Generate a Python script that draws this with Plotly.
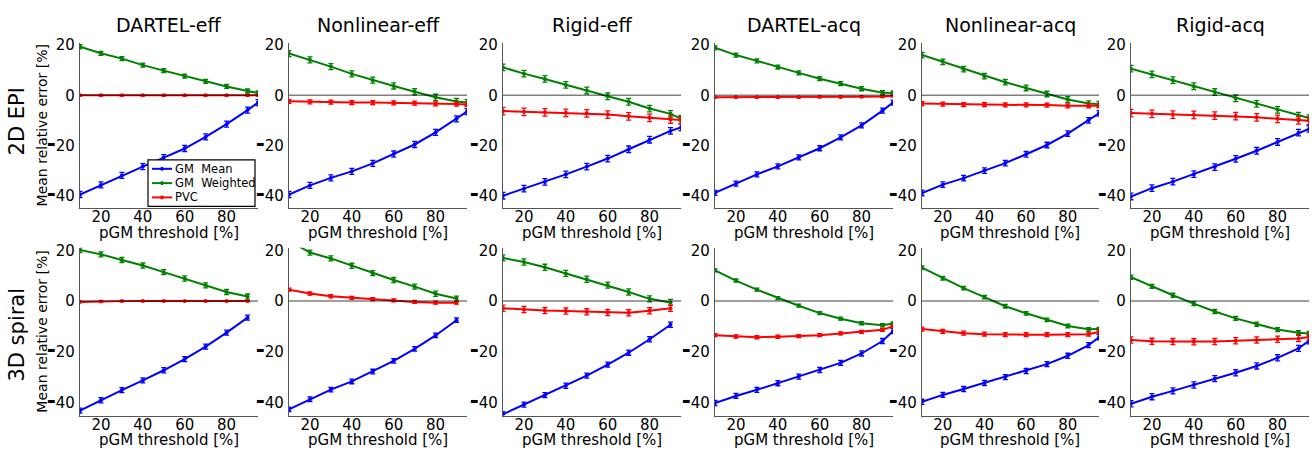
import plotly.graph_objects as go

# ---------------- data ----------------
thresholds = [10, 20, 30, 40, 50, 60, 70, 80, 90, 95]
thresholds_short = [10, 20, 30, 40, 50, 60, 70, 80, 90]
x_ticks = [20, 40, 60, 80]
y_ticks = [-40, -20, 0, 20]
MINUS = "<span style='font-size:22px'><b>-</b></span>"
y_tick_text = [MINUS + "40", MINUS + "20", "0", "20"]
series_names = ["GM\u00a0 Mean", "GM\u00a0 Weighted", "PVC"]
panel_titles = ["DARTEL-eff", "Nonlinear-eff", "Rigid-eff", "DARTEL-acq", "Nonlinear-acq", "Rigid-acq"]
row_labels = ["2D EPI", "3D spiral"]
x_title = "pGM threshold [%]"
y_title = "Mean relative error [%]"

# Row 1: 2D EPI
epi_dartel_eff_mean = [-39.5, -35.7, -31.9, -28.4, -24.8, -21.2, -16.6, -11.5, -5.9, -2.9]
epi_dartel_eff_weighted = [19.3, 16.7, 14.6, 12.0, 9.8, 7.6, 5.5, 3.5, 1.7, 0.9]
epi_dartel_eff_pvc = [0.0, 0.0, 0.0, 0.0, 0.0, 0.0, 0.0, 0.0, 0.0, 0.0]
epi_nonlin_eff_mean = [-39.5, -35.9, -32.9, -30.3, -27.1, -23.4, -19.6, -14.8, -9.4, -6.5]
epi_nonlin_eff_weighted = [16.6, 14.1, 11.4, 8.5, 6.0, 3.7, 1.4, -0.8, -2.5, -2.9]
epi_nonlin_eff_pvc = [-2.4, -2.6, -2.7, -2.9, -2.9, -3.0, -3.1, -3.4, -3.5, -3.7]
epi_rigid_eff_mean = [-40.0, -37.2, -34.5, -31.5, -28.4, -25.2, -21.5, -17.7, -14.2, -12.8]
epi_rigid_eff_weighted = [11.1, 8.6, 6.5, 4.1, 1.9, -0.4, -2.6, -5.3, -7.4, -9.3]
epi_rigid_eff_pvc = [-6.3, -6.6, -6.8, -7.0, -7.2, -7.7, -8.4, -9.0, -9.7, -9.9]
epi_dartel_acq_mean = [-38.9, -35.2, -31.5, -28.3, -24.7, -21.1, -16.8, -12.0, -6.1, -2.9]
epi_dartel_acq_weighted = [18.9, 16.0, 13.7, 11.2, 8.9, 6.6, 4.6, 2.6, 1.0, 0.9]
epi_dartel_acq_pvc = [-0.8, -0.8, -0.8, -0.8, -0.8, -0.7, -0.7, -0.6, -0.5, -0.3]
epi_nonlin_acq_mean = [-38.9, -35.6, -33.0, -30.0, -27.0, -23.5, -19.8, -15.3, -10.0, -7.2]
epi_nonlin_acq_weighted = [16.0, 13.3, 10.4, 7.6, 5.2, 2.9, 0.5, -1.7, -3.3, -3.5]
epi_nonlin_acq_pvc = [-3.3, -3.5, -3.7, -3.7, -3.8, -3.8, -3.9, -4.2, -4.2, -4.2]
epi_rigid_acq_mean = [-40.3, -37.0, -34.4, -31.4, -28.6, -25.3, -22.1, -18.6, -14.9, -13.4]
epi_rigid_acq_weighted = [10.6, 8.3, 6.0, 3.6, 1.3, -1.2, -3.4, -5.8, -8.1, -9.1]
epi_rigid_acq_pvc = [-7.1, -7.4, -7.7, -7.8, -8.1, -8.3, -8.8, -9.4, -10.0, -10.1]

# Row 2: 3D spiral
spiral_dartel_eff_mean = [-43.1, -39.0, -35.0, -31.2, -27.2, -22.8, -17.9, -12.4, -6.5]
spiral_dartel_eff_weighted = [20.1, 18.4, 16.2, 14.0, 11.4, 8.9, 6.2, 3.6, 1.8]
spiral_dartel_eff_pvc = [-0.3, -0.1, 0.0, 0.0, 0.0, 0.0, 0.0, 0.0, 0.0]
spiral_nonlin_eff_mean = [-42.6, -38.6, -34.8, -31.6, -27.7, -23.5, -18.8, -13.5, -7.5]
spiral_nonlin_eff_weighted = [23.8, 19.1, 16.8, 13.9, 11.0, 8.3, 5.7, 2.9, 1.0]
spiral_nonlin_eff_pvc = [4.5, 3.0, 1.9, 1.3, 0.8, 0.3, -0.3, -0.6, -0.6]
spiral_rigid_eff_mean = [-44.5, -40.7, -37.0, -33.3, -29.3, -25.0, -20.3, -15.0, -9.3]
spiral_rigid_eff_weighted = [17.0, 15.4, 13.3, 10.9, 8.6, 6.3, 3.6, 0.9, -0.5]
spiral_rigid_eff_pvc = [-2.8, -3.3, -3.7, -3.9, -4.2, -4.5, -4.6, -3.8, -2.8]
spiral_dartel_acq_mean = [-40.1, -37.3, -34.9, -32.3, -29.7, -27.1, -24.3, -20.6, -15.7, -11.8]
spiral_dartel_acq_weighted = [12.1, 8.1, 4.5, 1.2, -1.8, -4.7, -6.9, -8.7, -9.5, -8.8]
spiral_dartel_acq_pvc = [-13.4, -13.9, -14.2, -14.0, -13.8, -13.4, -12.7, -12.1, -11.3, -9.9]
spiral_nonlin_acq_mean = [-39.6, -36.9, -34.6, -32.2, -29.9, -27.5, -24.8, -21.5, -17.3, -14.2]
spiral_nonlin_acq_weighted = [13.2, 9.0, 5.1, 1.6, -2.0, -4.8, -7.4, -9.8, -11.1, -11.0]
spiral_nonlin_acq_pvc = [-11.0, -11.9, -12.6, -13.0, -13.2, -13.2, -13.2, -13.2, -13.0, -12.1]
spiral_rigid_acq_mean = [-40.4, -37.6, -35.3, -33.0, -30.5, -28.2, -25.5, -22.3, -18.6, -15.6]
spiral_rigid_acq_weighted = [9.4, 5.8, 2.3, -1.0, -4.1, -6.8, -9.1, -11.2, -12.4, -12.7]
spiral_rigid_acq_pvc = [-15.3, -15.8, -15.9, -16.0, -15.9, -15.6, -15.3, -15.0, -14.7, -14.1]

# error-bar half widths (mean, weighted, pvc), per panel
epi_dartel_eff_err = [1.2, 0.8, 0.2]
epi_nonlin_eff_err = [1.2, 1.2, 0.8]
epi_rigid_eff_err = [1.3, 1.3, 1.5]
epi_dartel_acq_err = [1.0, 0.8, 0.2]
epi_nonlin_acq_err = [1.1, 1.1, 0.8]
epi_rigid_acq_err = [1.3, 1.3, 1.5]
spiral_dartel_eff_err = [1.0, 1.0, 0.2]
spiral_nonlin_eff_err = [0.9, 1.0, 0.6]
spiral_rigid_eff_err = [1.0, 1.2, 1.2]
spiral_dartel_acq_err = [1.0, 0.6, 0.6]
spiral_nonlin_acq_err = [1.0, 0.7, 0.8]
spiral_rigid_acq_err = [1.2, 0.8, 1.2]

panels = [
    [(thresholds, epi_dartel_eff_mean, epi_dartel_eff_weighted, epi_dartel_eff_pvc, epi_dartel_eff_err),
     (thresholds, epi_nonlin_eff_mean, epi_nonlin_eff_weighted, epi_nonlin_eff_pvc, epi_nonlin_eff_err),
     (thresholds, epi_rigid_eff_mean, epi_rigid_eff_weighted, epi_rigid_eff_pvc, epi_rigid_eff_err),
     (thresholds, epi_dartel_acq_mean, epi_dartel_acq_weighted, epi_dartel_acq_pvc, epi_dartel_acq_err),
     (thresholds, epi_nonlin_acq_mean, epi_nonlin_acq_weighted, epi_nonlin_acq_pvc, epi_nonlin_acq_err),
     (thresholds, epi_rigid_acq_mean, epi_rigid_acq_weighted, epi_rigid_acq_pvc, epi_rigid_acq_err)],
    [(thresholds_short, spiral_dartel_eff_mean, spiral_dartel_eff_weighted, spiral_dartel_eff_pvc, spiral_dartel_eff_err),
     (thresholds_short, spiral_nonlin_eff_mean, spiral_nonlin_eff_weighted, spiral_nonlin_eff_pvc, spiral_nonlin_eff_err),
     (thresholds_short, spiral_rigid_eff_mean, spiral_rigid_eff_weighted, spiral_rigid_eff_pvc, spiral_rigid_eff_err),
     (thresholds, spiral_dartel_acq_mean, spiral_dartel_acq_weighted, spiral_dartel_acq_pvc, spiral_dartel_acq_err),
     (thresholds, spiral_nonlin_acq_mean, spiral_nonlin_acq_weighted, spiral_nonlin_acq_pvc, spiral_nonlin_acq_err),
     (thresholds, spiral_rigid_acq_mean, spiral_rigid_acq_weighted, spiral_rigid_acq_pvc, spiral_rigid_acq_err)],
]

# ---------------- layout geometry ----------------
W, H = 1312, 453
FONT = "DejaVu Sans"
col_px = [(80, 258), (289, 467), (503, 681), (715, 893), (922, 1099), (1131, 1309)]
row_px = [(37, 205), (245, 415)]
colors = ["#0000ff", "#008000", "#ff0000"]

fig = go.Figure()
layout = dict(
    width=W, height=H, margin=dict(l=0, r=0, t=0, b=0),
    paper_bgcolor="white", plot_bgcolor="white",
    font=dict(family=FONT, size=15, color="black"),
    showlegend=False,
)
annotations = []
shapes = []

idx = 0
for r in range(2):
    for c in range(6):
        idx += 1
        xs, mean, weighted, pvc, err = panels[r][c]
        xa = "x" if idx == 1 else f"x{idx}"
        ya = "y" if idx == 1 else f"y{idx}"
        for k, vals in enumerate([mean, weighted, pvc]):
            fig.add_trace(go.Scatter(
                x=xs, y=vals, mode="lines+markers",
                name=series_names[k],
                line=dict(color=colors[k], width=2),
                marker=dict(color=colors[k], size=4, symbol="circle"),
                error_y=dict(type="constant", value=err[k], color=colors[k],
                             thickness=1.3, width=2.5),
                xaxis=xa, yaxis=ya, cliponaxis=True,
            ))
        x0, x1 = col_px[c]
        y0, y1 = row_px[r]
        axname = "" if idx == 1 else str(idx)
        layout["xaxis" + axname] = dict(
            domain=[x0 / W, x1 / W], range=[10, 95], anchor=ya,
            tickvals=x_ticks, showline=True, linecolor="#555555", linewidth=1.2,
            showgrid=False, zeroline=False, ticks="", mirror=False,
            tickfont=dict(size=15, family=FONT), ticklabelstandoff=-5,
        )
        layout["yaxis" + axname] = dict(
            domain=[1 - y1 / H, 1 - y0 / H], range=[-45, 21], anchor=xa,
            tickvals=y_ticks, ticktext=y_tick_text,
            showline=True, linecolor="#555555", linewidth=1.2,
            showgrid=False, zeroline=False, ticks="", mirror=False,
            tickfont=dict(size=15, family=FONT), ticklabelstandoff=1,
        )
        shapes.append(dict(type="line", xref=xa, yref=ya, x0=10, x1=95, y0=0, y1=0,
                           line=dict(color="rgba(0,0,0,0.5)", width=1.5), layer="above"))
        # x axis title
        annotations.append(dict(text=x_title, xref="paper", yref="paper",
                                x=(x0 + x1) / 2 / W, y=1 - (y1 + 25) / H,
                                xanchor="center", yanchor="middle", showarrow=False,
                                font=dict(size=15, family=FONT)))
        if r == 0:
            annotations.append(dict(text=panel_titles[c], xref="paper", yref="paper",
                                    x=(x0 + x1) / 2 / W, y=1 - 19 / H,
                                    xanchor="center", yanchor="middle", showarrow=False,
                                    font=dict(size=19, family=FONT)))
        if c == 0:
            annotations.append(dict(text=y_title, xref="paper", yref="paper",
                                    x=42 / W, y=1 - (y0 + y1) / 2 / H,
                                    xanchor="center", yanchor="middle", showarrow=False,
                                    textangle=-90, font=dict(size=14, family=FONT)))
            annotations.append(dict(text=row_labels[r], xref="paper", yref="paper",
                                    x=17 / W, y=1 - [117, 333][r] / H,
                                    xanchor="center", yanchor="middle", showarrow=False,
                                    textangle=-90, font=dict(size=21, family=FONT)))

# ---- legend box drawn inside the first panel (paper coordinates) ----
lg_x0, lg_x1, lg_y0, lg_y1 = 148, 255, 156, 203
shapes.append(dict(type="rect", xref="paper", yref="paper",
                   x0=lg_x0 / W, x1=lg_x1 / W, y0=1 - lg_y1 / H, y1=1 - lg_y0 / H,
                   fillcolor="white", line=dict(color="black", width=1.2), layer="above"))
for k, name in enumerate(series_names):
    yy = 1 - (165 + 14.5 * k) / H
    shapes.append(dict(type="line", xref="paper", yref="paper",
                       x0=152 / W, x1=172 / W, y0=yy, y1=yy,
                       line=dict(color=colors[k], width=2), layer="above"))
    shapes.append(dict(type="circle", xref="paper", yref="paper",
                       x0=160.5 / W, x1=163.5 / W, y0=yy - 1.5 / H, y1=yy + 1.5 / H,
                       fillcolor=colors[k], line=dict(color=colors[k], width=1), layer="above"))
    annotations.append(dict(text=name, xref="paper", yref="paper",
                            x=173 / W, y=yy, xanchor="left", yanchor="middle",
                            showarrow=False, font=dict(size=11.5, family=FONT)))

layout["annotations"] = annotations
layout["shapes"] = shapes
fig.update_layout(**layout)
fig.write_html("out.html")
